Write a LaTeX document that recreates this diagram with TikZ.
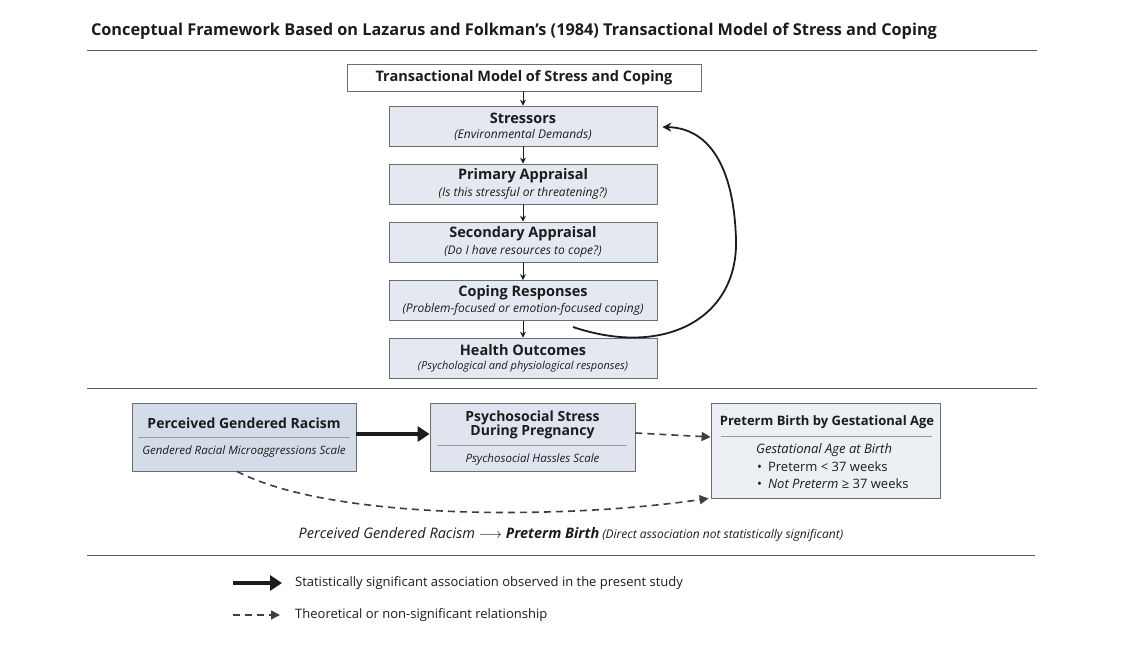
\documentclass[tikz,border=0pt]{standalone}
\usepackage{fontspec}
\setmainfont{Open Sans}
\usetikzlibrary{arrows.meta,calc}
\definecolor{ink}{HTML}{1C1C1C}
\definecolor{rulec}{HTML}{5A5A5A}
\definecolor{bordc}{HTML}{6E6E6E}
\definecolor{flowfill}{HTML}{E4E9F1}
\definecolor{fillA}{HTML}{D5DCE9}
\definecolor{fillB}{HTML}{DFE4EE}
\definecolor{fillC}{HTML}{ECEFF4}
\definecolor{innerrule}{HTML}{9A9A9A}
\begin{document}
\begin{tikzpicture}[x=1pt,y=-1pt,
  every node/.style={text=ink, inner sep=0pt},
  flowbox/.style={draw=bordc, line width=0.7pt, fill=flowfill, minimum width=268pt, minimum height=40pt},
  bigbox/.style={draw=bordc, line width=0.8pt},
  hd/.style={font=\fontsize{14.5}{16}\selectfont\bfseries},
  sub/.style={font=\fontsize{12}{14}\selectfont\itshape},
  smallsub/.style={font=\fontsize{11}{13}\selectfont\itshape},
  darr/.style={draw=ink, line width=1pt, -{Stealth[length=6pt,width=6pt]}},
  sigarr/.style={draw=ink, line width=3.6pt, -{Triangle[length=12pt,width=15pt]}},
  nsarr/.style={draw=ink!85, line width=1.6pt, dash pattern=on 7pt off 5pt, -{Triangle[length=9pt,width=9pt]}},
  sep/.style={draw=rulec, line width=0.8pt},
  inrule/.style={draw=innerrule, line width=0.6pt}
]
\useasboundingbox (0,0) rectangle (1141,669);
\fill[white] (0,0) rectangle (1141,669);

% title and separators
\node[anchor=center, font=\fontsize{16.3}{19}\selectfont\bfseries] (title) at (514,31)
  {Conceptual Framework Based on Lazarus and Folkman’s (1984) Transactional Model of Stress and Coping};
\draw[sep] (87,50) -- (1037,50);
\draw[sep] (87,388) -- (1037,388);
\draw[sep] (87,555) -- (1035,555);

% flowchart
\node[draw=bordc, line width=0.7pt, fill=white, minimum width=354pt, minimum height=27pt,
  font=\fontsize{14.5}{16}\selectfont\bfseries] (tm) at (524,77.5) {Transactional Model of Stress and Coping};

\node[flowbox] (st) at (523,126) {};
\node[hd] (sth) at ($(st)+(0,-8)$) {Stressors};
\node[sub] (sts) at ($(st)+(0,9)$) {(Environmental Demands)};

\node[flowbox] (pa) at (523,184) {};
\node[hd] (pah) at ($(pa)+(0,-8)$) {Primary Appraisal};
\node[sub] (pas) at ($(pa)+(0,9)$) {(Is this stressful or threatening?)};

\node[flowbox] (sa) at (523,242) {};
\node[hd] (sah) at ($(sa)+(0,-8)$) {Secondary Appraisal};
\node[sub] (sas) at ($(sa)+(0,9)$) {(Do I have resources to cope?)};

\node[flowbox] (cr) at (523,300.5) {};
\node[hd] (crh) at ($(cr)+(0,-8)$) {Coping Responses};
\node[sub] (crs) at ($(cr)+(0,9)$) {(Problem-focused or emotion-focused coping)};

\node[flowbox] (ho) at (523,358) {};
\node[hd] (hoh) at ($(ho)+(0,-8)$) {Health Outcomes};
\node[smallsub] (hos) at ($(ho)+(0,9)$) {(Psychological and physiological responses)};

\draw[darr] (tm.south -| st.north) -- (st.north);
\draw[darr] (st) -- (pa);
\draw[darr] (pa) -- (sa);
\draw[darr] (sa) -- (cr);
\draw[darr] (cr) -- (ho);

% feedback loop
\coordinate (fb) at (573,327);
\draw[draw=ink, line width=1.8pt, -{Stealth[length=9pt,width=9pt]}]
  (fb) .. controls (665,358) and (738,318) .. (736,240)
       .. controls (734,165) and (708,128) .. ([xshift=5pt,yshift=-1pt]st.east);

% bottom model
\node[bigbox, fill=fillA, minimum width=224pt, minimum height=68pt] (pgr) at (244,437) {};
\node[font=\fontsize{14}{16}\selectfont\bfseries] (pgrh) at (244,423) {Perceived Gendered Racism};
\draw[inrule] (138,437) -- (350,437);
\node[font=\fontsize{11.5}{14}\selectfont\itshape] (pgrs) at (244,452) {Gendered Racial Microaggressions Scale};

\node[bigbox, fill=fillB, minimum width=205pt, minimum height=68pt] (pss) at (532.5,437) {};
\node[align=center, font=\fontsize{14}{14.5}\selectfont\bfseries] (pssh) at (532.5,425) {Psychosocial Stress\\During Pregnancy};
\draw[inrule] (437,445) -- (627,445);
\node[font=\fontsize{11.5}{14}\selectfont\itshape] (psss) at (532.5,460) {Psychosocial Hassles Scale};

\node[bigbox, fill=fillC, minimum width=229pt, minimum height=95pt] (pb) at (825.5,450.5) {};
\node[anchor=center, font=\fontsize{13}{16}\selectfont\bfseries] (pbh) at (827,422) {Preterm Birth by Gestational Age};
\draw[inrule] (721,436) -- (932,436);
\node[anchor=west, font=\fontsize{13}{15}\selectfont\itshape] (pbs) at (756,450) {Gestational Age at Birth};
\node[anchor=west, font=\fontsize{13}{15}\selectfont] (pb1) at (757,467) {•\hspace{6pt}Preterm < 37 weeks};
\node[anchor=west, font=\fontsize{13}{15}\selectfont] (pb2) at (757,484) {•\hspace{6pt}\textit{Not Preterm} ≥ 37 weeks};

\draw[sigarr] ([yshift=3pt]pgr.east) -- ([yshift=3pt]pss.west);
\draw[nsarr] ([yshift=4pt]pss.east) -- (pss.east -| pb.west);
\draw[nsarr] ([xshift=-7pt]pgr.south) .. controls (330,520) and (560,520) .. ([xshift=-2pt]pb.south west);

\node[anchor=center] (direct) at (571,534)
  {{\fontsize{14.5}{16}\selectfont\itshape Perceived Gendered Racism $\longrightarrow$ \textbf{Preterm Birth}}\hspace{3pt}{\fontsize{12}{14}\selectfont\itshape (Direct association not statistically significant)}};

% legend
\coordinate (l1a) at (233,583);
\coordinate (l1b) at (282,583);
\draw[sigarr] (l1a) -- (l1b);
\node[anchor=west, font=\fontsize{13}{15}\selectfont] (l1t) at (295,583) {Statistically significant association observed in the present study};
\coordinate (l2a) at (233,615);
\coordinate (l2b) at (280,615);
\draw[nsarr] (l2a) -- (l2b);
\node[anchor=west, font=\fontsize{13}{15}\selectfont] (l2t) at (295,615) {Theoretical or non-significant relationship};
\end{tikzpicture}
\end{document}
